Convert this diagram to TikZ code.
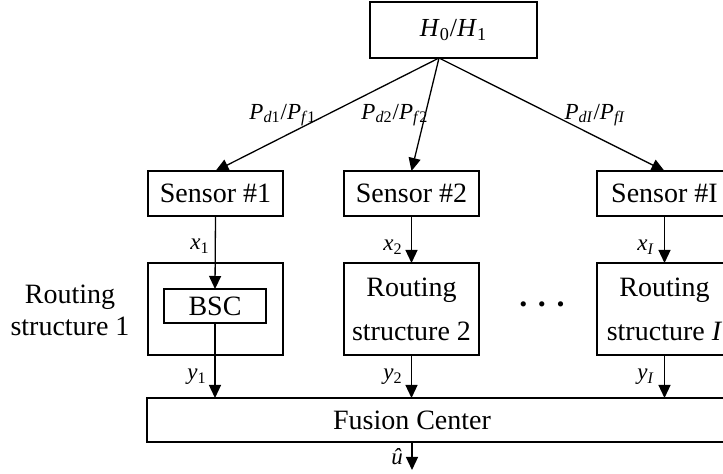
\documentclass[tikz,border=0pt]{standalone}
\usepackage{fontspec}
\setmainfont{Liberation Serif}
\usetikzlibrary{arrows.meta,positioning}

\begin{document}
\begin{tikzpicture}[x=0.5pt,y=-0.5pt,>={Triangle[length=6.5pt,width=6pt]}]
	\tikzstyle{box} = [draw, black, line width=0.65pt, minimum width=67.5pt, inner sep=0, outer sep=0, align=center, font=\fontsize{14}{22}\selectfont]
	\tikzstyle{sig} = [->, black, line width=0.65pt]
	\tikzstyle{lbl} = [inner sep=0, font=\fontsize{11.5}{13}\selectfont]
	\useasboundingbox (0,0) rectangle (723,474);
	\clip (0,0) rectangle (723,474);
	
	\node [box,minimum width=83.5pt,minimum height=28pt,font=\fontsize{13}{15}\selectfont] (h) at (453.5,30) {\textit{H}\textsubscript{0}/\textit{H}\textsubscript{1}};
	\coordinate (apex) at (439,58);
	
	\node [box,minimum height=22.5pt] (s1) at (215.5,193.5) {Sensor \#1};
	\node [box,minimum height=22.5pt] (s2) at (411.5,193.5) {Sensor \#2};
	\node [box,minimum height=22.5pt] (sI) at (664.5,193.5) {Sensor \#I};
	
	\draw [sig] (apex) -- (s1.north);
	\draw [sig] (apex) -- (s2.north);
	\draw [sig] (apex) -- (sI.north);
	\node [lbl] (p1) at (283,115) {\textit{P}\textsubscript{\textit{d}1}/\textit{P}\textsubscript{\textit{f}1}};
	\node [lbl] (p2) at (395,115) {\textit{P}\textsubscript{\textit{d}2}/\textit{P}\textsubscript{\textit{f}2}};
	\node [lbl] (pI) at (595,115) {\textit{P}\textsubscript{\textit{dI}}/\textit{P}\textsubscript{\textit{fI}}};
	
	\node [box,minimum height=46pt] (r1) at (215.5,309) {};
	\node [box,minimum width=51pt,minimum height=17pt] (bsc) at (215,306) {BSC};
	\node [box,minimum height=46pt] (r2) at (411.5,309) {Routing\\structure 2};
	\node [box,minimum height=46pt] (rI) at (664.5,309) {Routing\\structure \textit{I}};
	\node [align=center,inner sep=0,font=\fontsize{14}{16}\selectfont] (r1txt) at (70,310) {Routing\\structure 1};
	\node [anchor=base,inner sep=0,font=\fontsize{16}{18}\bfseries] (dots) at (542,307) {.\,\,.\,\,.};
	
	\draw [sig] (s1.south) -- (bsc.north);
	\draw [sig] (s2.south) -- (r2.north);
	\draw [sig] (sI.south) -- (rI.north);
	\node [lbl] (x1) at (200,246) {\textit{x}\textsubscript{1}};
	\node [lbl] (x2) at (393,247) {\textit{x}\textsubscript{2}};
	\node [lbl] (xI) at (646,247) {\textit{x}\textsubscript{\textit{I}}};
	
	\node [box,minimum width=294pt,minimum height=22pt] (fc) at (441,420) {};
	\node [inner sep=0,font=\fontsize{14}{16}\selectfont] (fctxt) at (412,420) {Fusion Center};
	
	\draw [sig] (bsc.south) -- (bsc.south |- fc.north);
	\draw [sig] (r2.south) -- (r2.south |- fc.north);
	\draw [sig] (rI.south) -- (rI.south |- fc.north);
	\node [lbl] (y1) at (197,377) {\textit{y}\textsubscript{1}};
	\node [lbl] (y2) at (393,377) {\textit{y}\textsubscript{2}};
	\node [lbl] (yI) at (646,377) {\textit{y}\textsubscript{\textit{I}}};
	
	\coordinate (uout) at (412,470);
	\draw [sig] (fc.south -| uout) -- (uout);
	\node [lbl] (uhat) at (397,457) {\textit{û}};
\end{tikzpicture}
\end{document}
